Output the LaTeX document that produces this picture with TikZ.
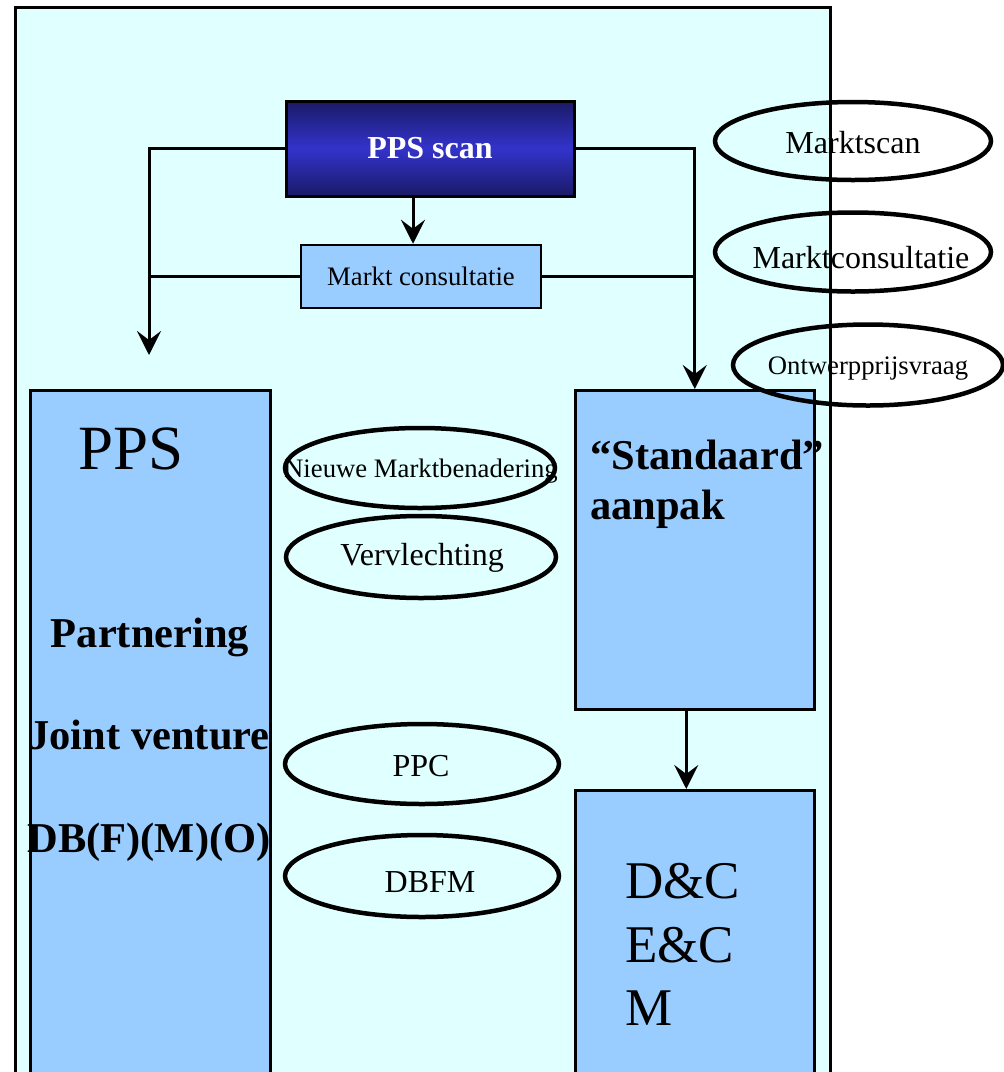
\documentclass[tikz,border=0pt]{standalone}
\usepackage{fontspec}
\setmainfont{Liberation Serif}
\usetikzlibrary{arrows.meta,shapes.geometric}
\definecolor{bgcyan}{HTML}{E0FFFF}
\definecolor{boxblue}{HTML}{99CCFF}
\definecolor{navyd}{HTML}{1A1A66}
\definecolor{navym}{HTML}{3333CC}
\newcommand{\fsz}[1]{\fontsize{#1}{#1}\selectfont}
\begin{document}
\begin{tikzpicture}[x=1pt,y=-1pt,
  box/.style={draw=black, fill=boxblue, line width=2.5pt, inner sep=0pt, anchor=north west},
  ell/.style={draw=black, ellipse, line width=4.5pt, inner sep=0pt},
  etext/.style={inner sep=0pt, text=black},
  conn/.style={draw=black, line width=3pt},
  arr/.style={conn, -{Stealth[length=24pt,width=24pt,inset=9pt]}},
  btext/.style={inner sep=0pt, font=\bfseries\fsz{42.5}}
]
\useasboundingbox (0,0) rectangle (1004,1072);
\clip (0,0) rectangle (1004,1072);

% outer frame
\node[box, fill=bgcyan, line width=3pt, minimum width=815pt, minimum height=1100pt] (outer) at (14,6) {};

% top boxes
\node[draw=black, line width=3pt, top color=navyd, bottom color=navyd, middle color=navym,
      minimum width=288pt, minimum height=95pt, inner sep=0pt,
      text=white, font=\bfseries\fsz{32}] (scan) at (430,148.5) {PPS scan};
\node[draw=black, fill=boxblue, line width=2.5pt, minimum width=240pt, minimum height=63pt,
      inner sep=0pt, font=\fsz{26.7}] (mc) at (421,276.5) {Markt consultatie};

% main boxes
\node[box, minimum width=240pt, minimum height=720pt] (pps) at (29,389) {};
\node[box, minimum width=239pt, minimum height=319pt] (std) at (574,389) {};
\node[box, minimum width=239pt, minimum height=320pt] (dc) at (574,789) {};

% connectors
\coordinate (pleft) at (149,355);
\draw[arr] (scan.west) -| (pleft);
\draw[arr] (scan.east) -| (std.north);
\draw[arr] ([xshift=-17pt]scan.south) -- ([xshift=-8pt]mc.north);
\draw[conn] (mc.west) -- (mc.west -| pleft);
\draw[conn] (mc.east) -- (mc.east -| std.north);
\draw[arr] ([xshift=-8.5pt]std.south) -- ([xshift=-8.5pt]dc.north);

% texts in left box
\node[inner sep=0pt, anchor=base west, font=\fsz{63}] (tpps) at (78,469) {PPS};
\node[btext, anchor=base] (tpart) at (150,647) {Partnering};
\node[btext, anchor=base] (tjv) at (149,749) {Joint venture};
\node[btext, anchor=base] (tdb) at (149,852) {DB(F)(M)(O)};

% texts in right boxes
\node[btext, anchor=base west] (tstd) at (590,469) {“Standaard”};
\node[btext, anchor=base west] (taan) at (590,519) {aanpak};
\node[inner sep=0pt, anchor=base west, font=\fsz{53}] (tdc) at (625,898) {D\&C};
\node[inner sep=0pt, anchor=base west, font=\fsz{53}] (tec) at (625,962) {E\&C};
\node[inner sep=0pt, anchor=base west, font=\fsz{53}] (tm) at (625,1025) {M};

% middle ellipses
\node[ell, minimum width=270pt, minimum height=80pt] (e1) at (420,468) {};
\node[etext, font=\fsz{26.7}] (t1) at (421,471) {Nieuwe Marktbenadering};
\node[ell, minimum width=270pt, minimum height=82pt] (e2) at (421,557) {};
\node[etext, font=\fsz{32}] (t2) at (422,558) {Vervlechting};
\node[ell, minimum width=274pt, minimum height=80pt] (e3) at (422,764) {};
\node[etext, font=\fsz{32}] (t3) at (421,766) {PPC};
\node[ell, minimum width=274pt, minimum height=82pt] (e4) at (422,876) {};
\node[etext, font=\fsz{32}] (t4) at (430,882) {DBFM};

% right ellipses
\node[ell, minimum width=276pt, minimum height=78pt] (r1) at (853,141) {};
\node[etext, font=\fsz{32}] (s1) at (853,143) {Marktscan};
\node[ell, minimum width=276pt, minimum height=79pt] (r2) at (853,252) {};
\node[etext, font=\fsz{32}] (s2) at (861,258) {Marktconsultatie};
\node[ell, minimum width=270pt, minimum height=81pt] (r3) at (868,365) {};
\node[etext, font=\fsz{26.7}] (s3) at (868,369) {Ontwerpprijsvraag};
\end{tikzpicture}
\end{document}
